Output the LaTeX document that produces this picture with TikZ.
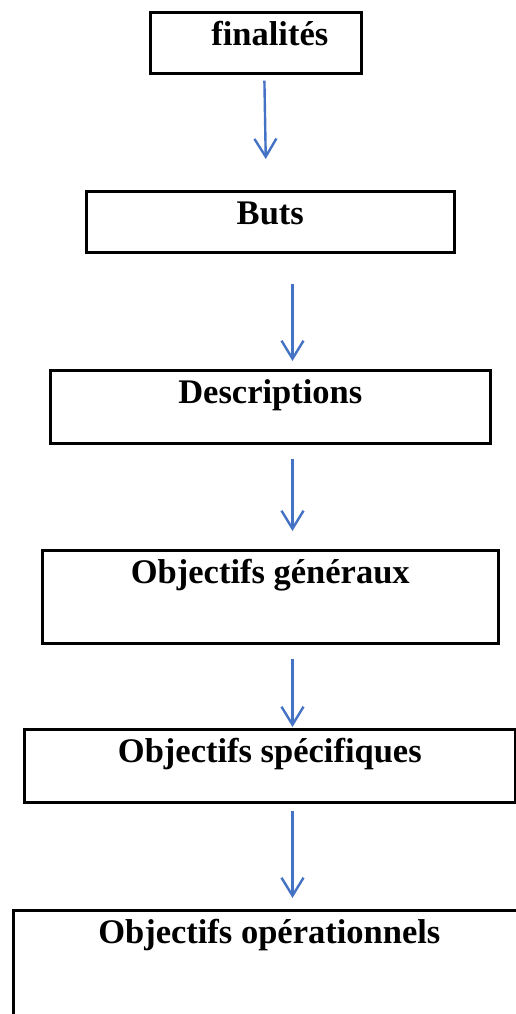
\documentclass[tikz,border=0pt]{standalone}
\usepackage{fontspec}
\setmainfont{Liberation Serif}
\usetikzlibrary{
		positioning,
		arrows.meta
	}
\definecolor{bleuWord}{RGB}{68,114,196}
\tikzset{
		>={Straight Barb[length=18pt,width=22pt]},
		etape/.style 2 args={draw, line width=2.6pt, inner sep=0pt, anchor=north west,
			minimum width=#1, text height=33pt, text depth=#2,
			font=\bfseries\fontsize{34.5}{40}\selectfont},
		fleche/.style={->, bleuWord, line width=2.4pt}
	}

\begin{document}
\begin{tikzpicture}[x=1pt, y=-1pt] % (1 unit = 1 pixel of the original, y going down)
		\useasboundingbox (0,0) rectangle (515,1014);
		% the six boxes
		\node[etape={211pt}{28pt}] (fin) at (149,11) {\hspace*{28pt}finalités};
		\node[etape={368pt}{28pt}] (buts) at (85,190) {Buts};
		\node[etape={440pt}{40pt}] (desc) at (49,369) {Descriptions};
		\node[etape={456pt}{60pt}] (gen) at (41,549) {Objectifs généraux};
		\node[etape={491pt}{40pt}] (spec) at (23,728) {Objectifs spécifiques};
		\node[etape={512pt}{97pt}] (oper) at (12,909) {Objectifs opérationnels};
		\coordinate (axe) at (292.5,0);
		% the arrows
		\draw[fleche, shorten <=6pt, shorten >=31pt]
		  ([xshift=8.5pt]fin.south) -- ([xshift=-4pt]buts.north);
		\foreach \a/\b/\s/\e in {buts/desc/30/8, desc/gen/14/18, gen/spec/14/1, spec/oper/7/11}
		  \draw[fleche, shorten <=\s pt, shorten >=\e pt] (\a.south -| axe) -- (\b.north -| axe);
	\end{tikzpicture}
\end{document}
